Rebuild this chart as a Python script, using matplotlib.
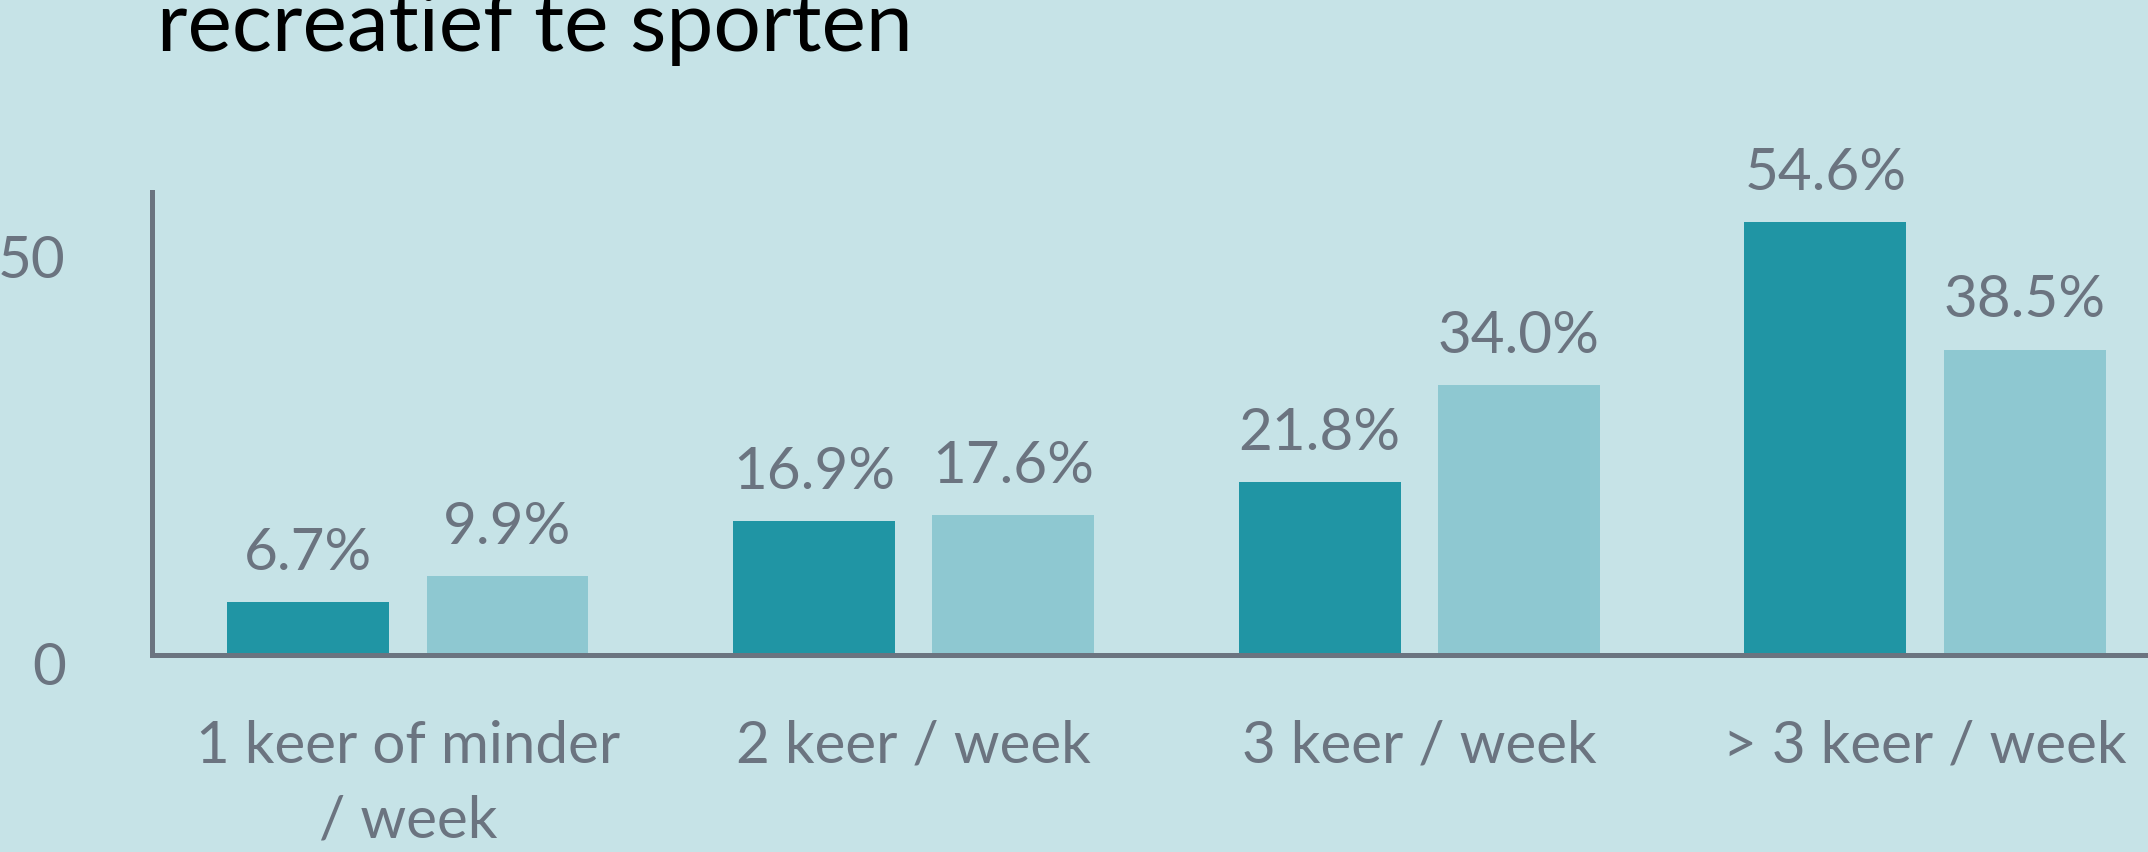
import matplotlib
matplotlib.use("Agg")
import matplotlib.pyplot as plt
import matplotlib.transforms as mtransforms
import numpy as np

categories = ["1 keer of minder\n/ week", "2 keer / week", "3 keer / week", "> 3 keer / week"]
series_a = [6.7, 16.9, 21.8, 54.6]
series_b = [9.9, 17.6, 34.0, 38.5]
y_ticks = [0, 50]
title_visible = "recreatief te sporten"

BG = "#c6e3e7"
DARK = "#2095a4"
LIGHT = "#8ec8d1"
GRAY = "#6b7480"

plt.rcParams['font.family'] = ['Lato', 'DejaVu Sans']

W, H = 2148, 853
fig = plt.figure(figsize=(W / 100, H / 100), dpi=100)
fig.patch.set_facecolor(BG)

left_px, base_px, top_px, right_px = 152, 656, 193, 2160
ax = fig.add_axes([left_px / W, (H - base_px) / H, (right_px - left_px) / W, (base_px - top_px) / H])
ax.set_facecolor(BG)

x = np.arange(len(categories))
bw = 0.32
off = 0.197
bars_a = ax.bar(x - off, series_a, bw, color=DARK, zorder=2)
bars_b = ax.bar(x + off, series_b, bw, color=LIGHT, zorder=2)

ax.set_xlim(-0.506, -0.506 + (right_px - left_px) / 505.7)
ax.set_ylim(0, (base_px - top_px) / 7.93)

for bars, vals in ((bars_a, series_a), (bars_b, series_b)):
    for b, v in zip(bars, vals):
        ax.annotate(f"{v:.1f}%", (b.get_x() + b.get_width() / 2, v),
                    xytext=(0, 24), textcoords="offset points",
                    ha="center", va="baseline", fontsize=42, color=GRAY)

for s in ("top", "right"):
    ax.spines[s].set_visible(False)
for s in ("left", "bottom"):
    ax.spines[s].set_color(GRAY)
    ax.spines[s].set_linewidth(3.6)
    ax.spines[s].set_zorder(3)

ax.set_yticks(y_ticks)
ax.set_yticklabels([str(t) for t in y_ticks])
ax.tick_params(axis="y", length=0, pad=62, labelsize=42, labelcolor=GRAY)
# small vertical nudges of the tick labels to match the reference
for lbl, dy in zip(ax.get_yticklabels(), (-8, 3)):
    lbl.set_transform(lbl.get_transform() + mtransforms.ScaledTranslation(0, dy / 100, fig.dpi_scale_trans))

ax.set_xticks(x)
ax.set_xticklabels(categories, linespacing=1.5)
ax.tick_params(axis="x", length=0, pad=46, labelsize=42, labelcolor=GRAY)

fig.text(157 / W, (H - 51) / H, title_visible, fontsize=60.5, color="black",
         ha="left", va="baseline")

fig.savefig("out.png", dpi=100, facecolor=BG)
